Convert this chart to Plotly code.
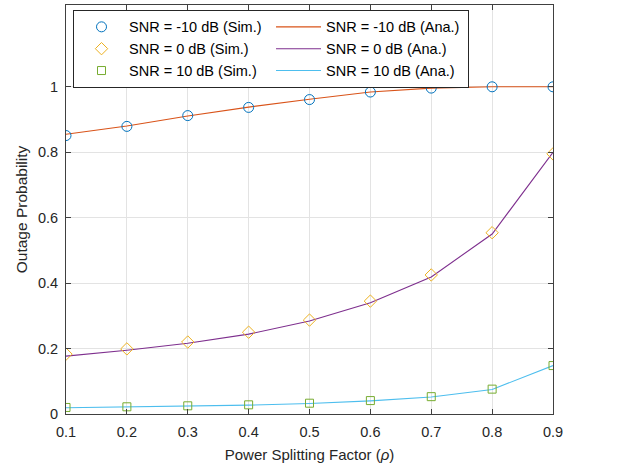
import plotly.graph_objects as go

rho = [0.1, 0.2, 0.3, 0.4, 0.5, 0.6, 0.7, 0.8, 0.9]

sim_m10 = [0.851, 0.879, 0.912, 0.937, 0.961, 0.984, 0.996, 1.0, 1.0]
ana_m10 = [0.855, 0.880, 0.911, 0.938, 0.962, 0.984, 0.996, 1.0, 1.0]

sim_0 = [0.183, 0.199, 0.220, 0.250, 0.287, 0.345, 0.425, 0.554, 0.795]
ana_0 = [0.177, 0.195, 0.216, 0.244, 0.284, 0.340, 0.419, 0.550, 0.800]

sim_10 = [0.020, 0.022, 0.025, 0.028, 0.033, 0.041, 0.053, 0.076, 0.148]
ana_10 = [0.019, 0.021, 0.024, 0.027, 0.032, 0.040, 0.052, 0.075, 0.148]

x_ticks = [0.1, 0.2, 0.3, 0.4, 0.5, 0.6, 0.7, 0.8, 0.9]
y_ticks = [0, 0.2, 0.4, 0.6, 0.8, 1]
y_tick_labels = ["0", "0.2", "0.4", "0.6", "0.8", "1"]

FONT = "Liberation Sans, Arial, Helvetica, sans-serif"

fig = go.Figure()
pairs = [
    ("SNR = -10 dB", sim_m10, ana_m10, "circle-open", 10, "#0072BD", "#D95319", 1),
    ("SNR = 0 dB", sim_0, ana_0, "diamond-open", 9.5, "#EDB120", "#7E2F8E", 3),
    ("SNR = 10 dB", sim_10, ana_10, "square-open", 8, "#77AC30", "#4DBEEE", 5),
]
# analytical lines first (drawn beneath markers)
for name, s, a, sym, sz, mc, lc, rk in pairs:
    fig.add_trace(go.Scatter(x=rho, y=a, mode="lines", name=name + " (Ana.)",
                             line=dict(color=lc, width=1.1), legendrank=rk + 1))
for name, s, a, sym, sz, mc, lc, rk in pairs:
    fig.add_trace(go.Scatter(x=rho, y=s, mode="markers", name=name + " (Sim.)",
                             marker=dict(symbol=sym, size=sz, color=mc, line=dict(width=1, color=mc)),
                             legendrank=rk))

axis_common = dict(
    showline=True, linecolor="#404040", linewidth=1, mirror="ticks",
    ticks="inside", ticklen=5, tickcolor="#404040", tickwidth=1,
    showgrid=True, gridcolor="#E3E3E3", gridwidth=1, zeroline=False,
    tickfont=dict(family=FONT, size=14.5, color="#262626"),
    automargin=False,
)

fig.update_layout(
    width=617, height=470,
    margin=dict(l=66, r=64, t=5, b=56),
    paper_bgcolor="white", plot_bgcolor="white",
    font=dict(family=FONT, size=14, color="#262626"),
    xaxis=dict(range=[0.1, 0.9], tickvals=x_ticks, ticktext=[str(v) for v in x_ticks],
               ticklabelstandoff=5,
               title=dict(text="Power Splitting Factor (<i>ρ</i>)", font=dict(family=FONT, size=15, color="#262626"), standoff=10),
               **axis_common),
    yaxis=dict(range=[0, 1.25], tickvals=y_ticks, ticktext=y_tick_labels,
               ticklabelstandoff=4,
               title=dict(text="Outage Probability", font=dict(family=FONT, size=15.5, color="#262626"), standoff=6),
               **axis_common),
    legend=dict(
        orientation="h", x=0.0144, y=0.988, xanchor="left", yanchor="top",
        bgcolor="white", bordercolor="#262626", borderwidth=1,
        font=dict(family=FONT, size=14.5, color="#000000"),
        entrywidth=137, itemwidth=45, traceorder="normal",
    ),
    showlegend=True,
)

fig.write_html("out.html", config={"displayModeBar": False},
               post_script="document.body.style.margin='0';")
